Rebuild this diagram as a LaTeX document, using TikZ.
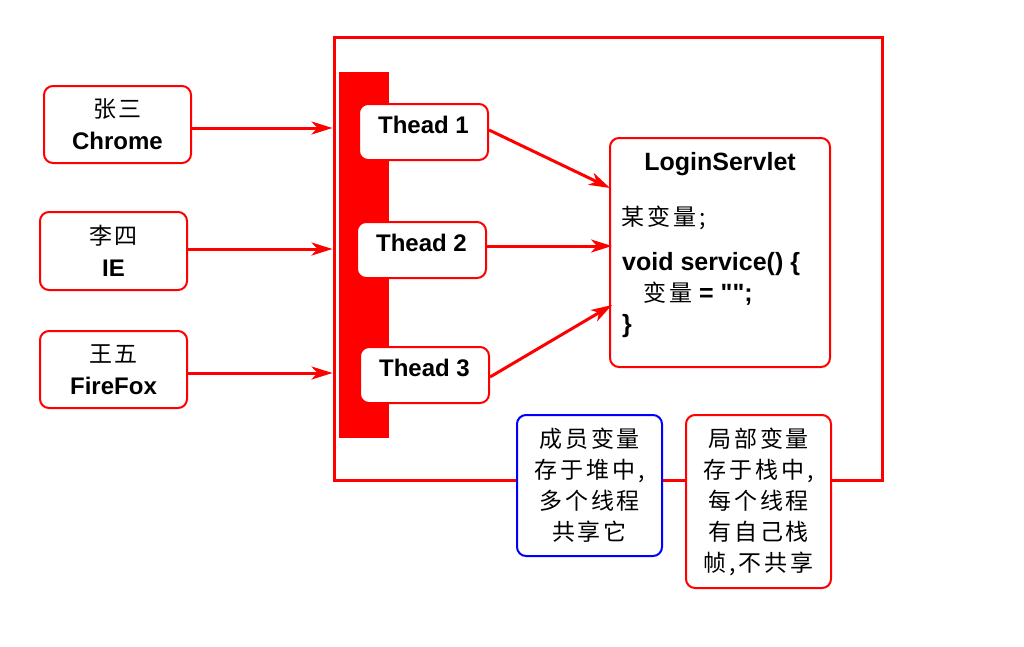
\documentclass[tikz,border=0pt]{standalone}
\usepackage{fontspec}
\setmainfont{Liberation Sans}
\newfontfamily\cj{Noto Sans CJK SC}[LetterSpace=13]
\usetikzlibrary{arrows.meta}
\newcommand\dq{{\XeTeXglyph\XeTeXglyphindex "quotedbl"\relax}}
\begin{document}
\begin{tikzpicture}[x=1pt,y=-1pt,
  rbox/.style={draw=red, line width=2pt, rounded corners=9pt, fill=white, inner sep=0pt, align=center},
  bbox/.style={rbox, draw=blue},
  conn/.style={draw=red, line width=3pt, -{Stealth[length=21pt,width=13pt,inset=6pt]}},
  lat/.style={font=\fontsize{24}{32}\selectfont\bfseries},
  big/.style={font=\fontsize{25}{30}\selectfont\bfseries},
  thr/.style={rbox, lat, minimum width=129pt, minimum height=56pt, text height=17pt, text depth=15pt},
  note/.style={font=\cj\fontsize{23}{31}\selectfont},
  txt/.style={inner sep=0pt, anchor=base west},
]
\useasboundingbox (0,0) rectangle (1024,646);
% frame and bar
\node[draw=red, line width=3pt, minimum width=548pt, minimum height=443pt, inner sep=0pt] (frame) at (608,258.5) {};
\node[fill=red, minimum width=50pt, minimum height=366pt, inner sep=0pt] (bar) at (364,255) {};
% clients
\node[rbox, lat, minimum width=147pt, minimum height=77pt] (zs) at (117.5,124.5) {{\cj\mdseries\fontsize{23}{32}\selectfont 张三}\\Chrome};
\node[rbox, lat, minimum width=147pt, minimum height=78pt] (ls) at (113.5,251) {{\cj\mdseries\fontsize{23}{32}\selectfont 李四}\\IE};
\node[rbox, lat, minimum width=147pt, minimum height=77pt] (ww) at (113.5,369.5) {{\cj\mdseries\fontsize{23}{32}\selectfont 王五}\\FireFox};
% threads
\node[thr] (t1) at (423.5,132) {Thead 1};
\node[thr] (t2) at (421.5,250) {Thead 2};
\node[thr] (t3) at (424.5,375) {Thead 3};
% servlet
\node[rbox, minimum width=220pt, minimum height=229pt] (sv) at (720,252.5) {};
\node[inner sep=0pt, anchor=base, big] (svt) at (720,170) {LoginServlet};
\node[txt, font=\cj\fontsize{23}{30}\selectfont] (sv1) at (621,225) {某变量;};
\node[txt, big] (sv2) at (622,270) {void service() \{};
\node[txt, big] (sv3) at (643,301) {{\cj\mdseries\fontsize{23}{30}\selectfont 变量} = \dq\dq;};
\node[txt, big] (sv4) at (622,332) {\}};
% notes
\node[bbox, note, minimum width=145pt, minimum height=141pt] (n1) at (589.5,485.5) {成员变量\\存于堆中,\\多个线程\\共享它};
\node[rbox, note, minimum width=145pt, minimum height=173pt] (n2) at (758.5,501.5) {局部变量\\存于栈中,\\每个线程\\有自己栈\\帧,不共享};
% connectors
\draw[conn] ([yshift=-3.5pt]zs.east) -- ([yshift=-3.5pt]zs.east -| frame.west);
\draw[conn] ([yshift=2pt]ls.east) -- ([yshift=2pt]ls.east -| frame.west);
\draw[conn] ([yshift=-3.5pt]ww.east) -- ([yshift=-3.5pt]ww.east -| frame.west);
\coordinate (e1) at (610,188);
\coordinate (e2) at (612,246);
\coordinate (e3) at (612,305);
\draw[conn] ([yshift=2pt]t1.east) -- (e1);
\draw[conn] ([yshift=4pt]t2.east) -- (e2);
\draw[conn] ([yshift=-2pt]t3.east) -- (e3);
\end{tikzpicture}
\end{document}
